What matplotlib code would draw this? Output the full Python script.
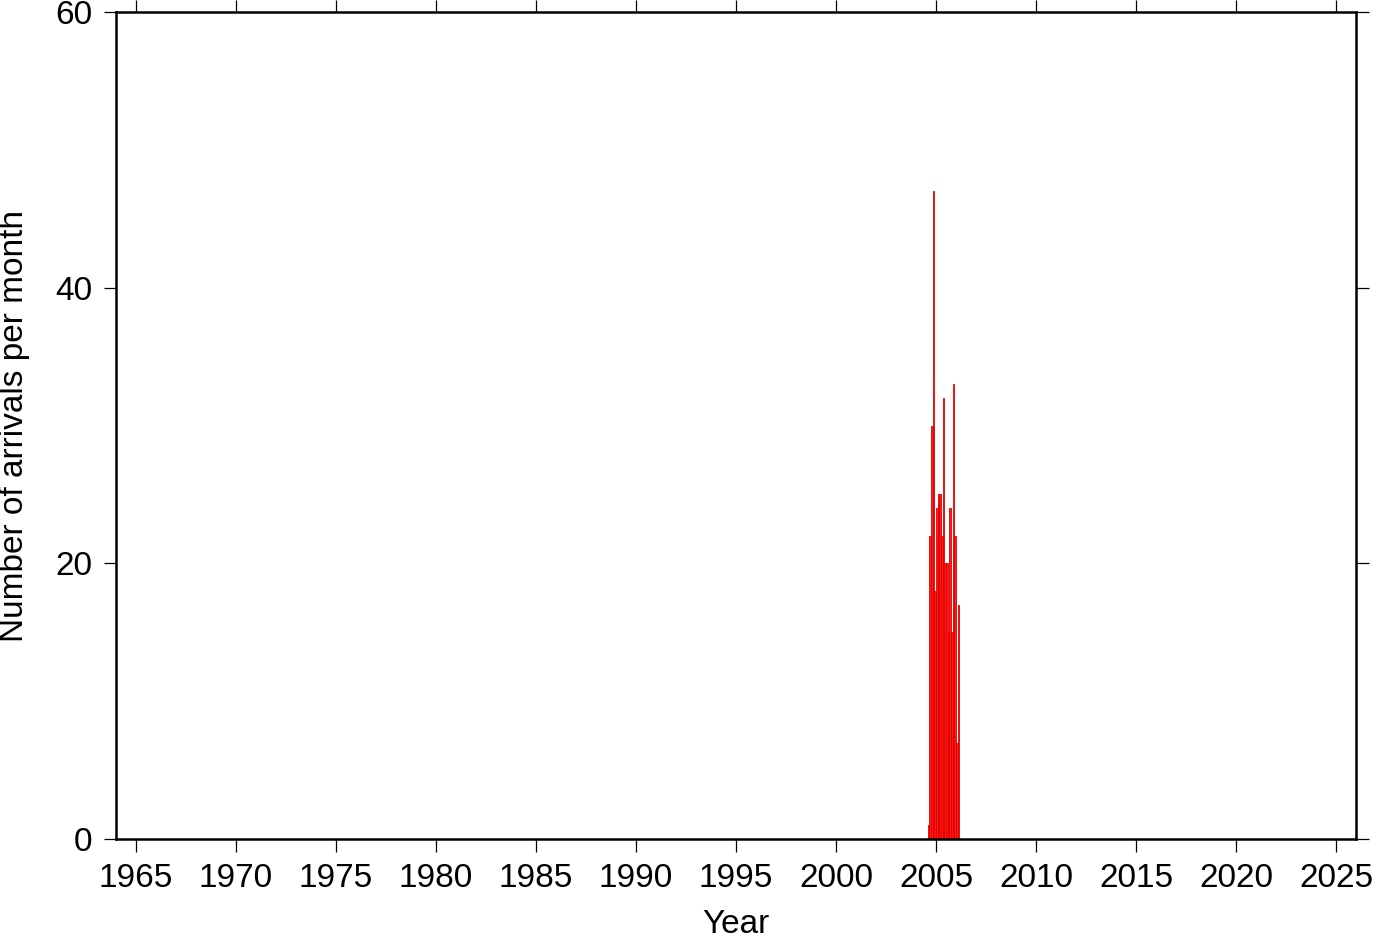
import numpy as np
import matplotlib
matplotlib.use("Agg")
import matplotlib.pyplot as plt

# monthly arrival counts, Aug 2004 .. Feb 2006
start_year = 2004
start_month = 8
counts = [1, 22, 30, 47, 18, 24, 25, 25, 22, 32, 20, 20, 15, 24, 15, 33, 22, 7, 17]

year_ticks = list(range(1965, 2030, 5))
count_ticks = [0, 20, 40, 60]

plt.rcParams['font.family'] = ['Liberation Sans', 'DejaVu Sans']

# decimal year of each month's left edge
months = np.arange(len(counts)) + (start_month - 1)
xpos = start_year + months / 12.0

fig = plt.figure(figsize=(13.82, 9.42), dpi=100)
ax = fig.add_axes([116/1382, 1-839/942, (1356-116)/1382, (839-12)/942])

ax.bar(xpos, counts, width=1/12, align='edge', color='#ff1a1a',
       edgecolor='#e00000', linewidth=0.6)

ax.set_xlim(1964, 2026)
ax.set_ylim(0, 60)
ax.set_xticks(year_ticks)
ax.set_yticks(count_ticks)

for sp in ax.spines.values():
    sp.set_linewidth(1.8)

ax.tick_params(direction='out', length=9, width=0.9, labelsize=24, pad=8,
               top=True, right=True, labeltop=False, labelright=False)

ax.set_xlabel("Year", fontsize=24, labelpad=11)
ax.set_ylabel("Number of arrivals per month", fontsize=24, labelpad=18)

fig.savefig("out.png", dpi=100)
